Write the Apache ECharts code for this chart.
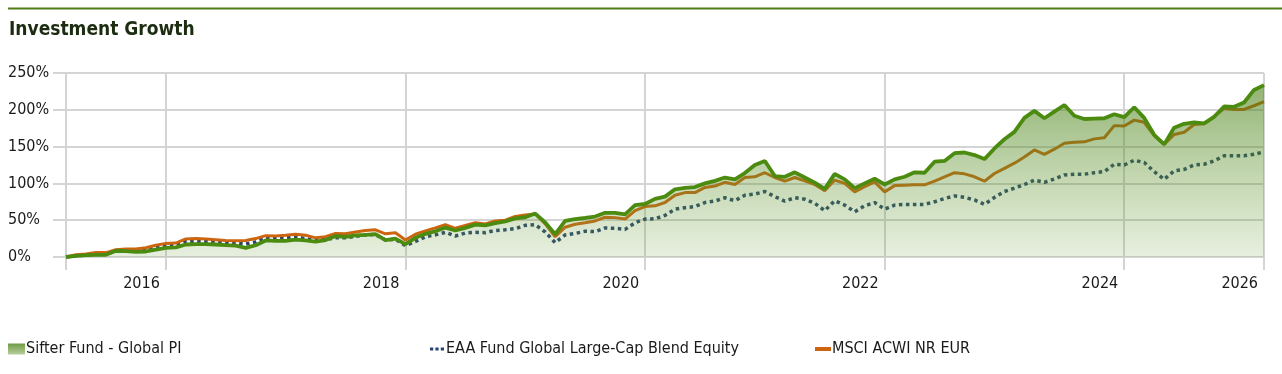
<!DOCTYPE html>
<html>
<head>
<meta charset="utf-8">
<script src="https://cdn.jsdelivr.net/npm/echarts@6/dist/echarts.min.js"></script>
<style>
html,body{margin:0;padding:0;background:#fff;}
#c{width:1282px;height:374px;}
</style>
</head>
<body>
<div id="c"></div>
<script>
// Monthly points, Feb 2016 .. Feb 2026 (cumulative growth, %)
const startYear = 2016, startMonth = 2, monthCount = 121;
const tickMonths = ['2016-12', '2018-12', '2020-12', '2022-12', '2024-12', '2026-02'];
const tickLabels = ['2016', '2018', '2020', '2022', '2024', '2026'];
const yTicks = [0, 50, 100, 150, 200, 250];

const seriesNames = ['Sifter Fund - Global PI', 'EAA Fund Global Large-Cap Blend Equity', 'MSCI ACWI NR EUR'];

const fundValues = [
  0, 1.5, 2.5, 3, 3, 8.5, 8, 7, 7.5, 10,
  12.5, 13, 17, 17.5, 17.5, 17, 16, 15.5, 12.5, 16,
  22.5, 22, 22, 23.5, 22.5, 21, 23, 28.5, 27.5, 29.5,
  30, 31, 23, 25, 17.5, 26, 31.5, 35, 40, 36,
  39.5, 44, 43, 46, 48.5, 52.5, 54, 59, 47, 31,
  49, 51.5, 53, 55, 60, 60, 58, 70.5, 72, 79,
  82, 92, 94, 95, 100, 103.5, 108, 105.5, 114, 125,
  130.5, 110, 109, 115, 108, 101, 92.5, 113, 105.5, 93.5,
  100, 106.5, 98.5, 105.5, 109, 115, 114.5, 129.5, 130.5, 141,
  142, 138.5, 133, 147.5, 160, 170, 189, 198.5, 188.5, 197.5,
  206.5, 192, 187.5, 188, 188.5, 194, 190, 203.5, 189, 166,
  153, 175.5, 181, 183, 181.5, 190.5, 204.5, 204, 210, 227,
  233.5
];

const categoryValues = [
  0, 1.5, 2.5, 4, 4, 8.5, 9, 9, 10, 13,
  15.5, 16, 21, 21.5, 21, 20.5, 19.5, 19, 17.5, 20.5,
  26, 25.5, 26, 27.5, 25, 22, 24, 26, 26, 28,
  30, 30.5, 23, 24, 15.5, 21, 27.5, 30, 33.5, 28.5,
  32.5, 33.5, 33, 36, 37, 38.5, 43, 44, 34, 19.5,
  30, 32, 35, 34.5, 39.5, 39, 37.5, 46.5, 51.5, 52,
  56.5, 65, 67, 68.5, 74, 76, 80.5, 76.5, 84, 85.5,
  89, 82, 76, 80.5, 78.5, 73, 63, 76.5, 70.5, 61.5,
  69.5, 74, 65, 70.5, 71.5, 71.5, 71.5, 75, 79.5, 83,
  81, 77.5, 71.5, 81, 89, 93.5, 98.5, 104.5, 101.5, 106,
  111.5, 112.5, 112.5, 114.5, 116, 126, 125, 131.5, 128.5, 116,
  105.5, 117, 119, 125, 126, 130.5, 137.5, 137.5, 137.5, 139.5,
  143
];

const indexValues = [
  0, 3, 4, 6, 6, 10, 11, 11, 12.5, 16,
  18.5, 19, 24.5, 25, 24.5, 23.5, 22.5, 22, 22.5, 25,
  29, 28.5, 29.5, 31, 29.5, 26, 27.5, 32, 31.5, 34,
  36, 37, 31.5, 33, 23, 31, 35.5, 39.5, 44, 39,
  43, 46.5, 45, 49, 50, 55, 57, 58.5, 45, 27.5,
  40.5, 44.5, 46.5, 49, 54, 53.5, 51.5, 63, 68.5, 69.5,
  74, 84, 87.5, 87.5, 94.5, 96.5, 101.5, 98.5, 108, 109,
  114.5, 108, 103, 108, 103.5, 98.5, 90, 104.5, 100, 88.5,
  95.5, 102, 88.5, 97, 97.5, 98, 98, 103, 109, 114.5,
  113, 109, 103, 113.5, 120.5, 127.5, 136, 145.5, 139.5, 146.5,
  154.5, 156, 156.5, 160.5, 162, 178.5, 178, 186, 183, 165,
  153, 166.5, 169.5, 180, 181, 190.5, 202, 200.5, 200.5, 205.5,
  211
];

// month category labels
const months = [];
for (let k = 0; k < monthCount; k++) {
  const m = startMonth - 1 + k;
  const y = startYear + Math.floor(m / 12);
  const mm = (m % 12) + 1;
  months.push(y + '-' + (mm < 10 ? '0' + mm : mm));
}

const FONT = '"DejaVu Sans Condensed", "Liberation Sans Narrow", Arial, sans-serif';
const GRID = '#d4d4d4';
const GREEN = '#4b8c10';
const ORANGE = '#cc6410';
const NAVY = '#27456e';
const TXT = '#1a1a1a';

const isGridMonth = (idx, val) => idx === 0 || tickMonths.indexOf(val) >= 0;

const areaGrad = new echarts.graphic.LinearGradient(0, 0, 0, 1, [
  { offset: 0, color: 'rgba(68,126,16,0.84)' },
  { offset: 1, color: 'rgba(110,160,60,0.24)' }
]);
const legendGrad = new echarts.graphic.LinearGradient(0, 0, 0, 1, [
  { offset: 0, color: '#6f9a45' },
  { offset: 1, color: '#b7cf9c' }
]);

const chart = echarts.init(document.getElementById('c'), null, { renderer: 'canvas' });
chart.setOption({
  animation: false,
  backgroundColor: '#fff',
  textStyle: { fontFamily: FONT },
  title: {
    text: 'Investment Growth',
    left: 4, top: 16,
    textStyle: { fontFamily: FONT, fontWeight: 'bold', fontSize: 19, color: '#1c2c10' }
  },
  graphic: [{
    type: 'line', silent: true,
    shape: { x1: 8, y1: 8.5, x2: 1282, y2: 8.5 },
    style: { stroke: '#4e7d14', lineWidth: 2 }
  }],
  grid: { left: 66, right: 18, top: 73, bottom: 117, containLabel: false },
  legend: [
    {
      left: 3, top: 336, itemWidth: 17, itemHeight: 11,
      data: [{ name: seriesNames[0], icon: 'rect', itemStyle: { color: legendGrad, borderWidth: 0 } }],
      textStyle: { fontFamily: FONT, fontSize: 16, color: TXT, padding: [0, 0, 0, -4] }
    },
    {
      left: 425, top: 336, itemWidth: 14, itemHeight: 4,
      data: [{ name: seriesNames[1], icon: 'path://M0,0h3v3h-3z M5,0h3v3h-3z M10,0h3v3h-3z', itemStyle: { color: NAVY, borderWidth: 0 } }],
      textStyle: { fontFamily: FONT, fontSize: 16, color: TXT, padding: [0, 0, 0, -3] }
    },
    {
      left: 810, top: 336, itemWidth: 16, itemHeight: 4,
      data: [{ name: seriesNames[2], icon: 'rect', itemStyle: { color: ORANGE, borderWidth: 0 } }],
      textStyle: { fontFamily: FONT, fontSize: 16, color: TXT, padding: [0, 0, 0, -4] }
    }
  ],
  xAxis: {
    type: 'category',
    data: months,
    boundaryGap: false,
    axisLine: { show: false },
    axisTick: { show: true, length: 13, interval: isGridMonth, lineStyle: { color: GRID, width: 2 } },
    splitLine: { show: true, interval: isGridMonth, lineStyle: { color: GRID, width: 2 } },
    axisLabel: {
      interval: (idx, val) => tickMonths.indexOf(val) >= 0,
      formatter: (val) => { const p = tickMonths.indexOf(val); return p >= 0 ? tickLabels[p] : ''; },
      align: 'right', margin: 19, padding: [0, 6, 0, 0],
      fontFamily: FONT, fontSize: 16, color: TXT
    }
  },
  yAxis: {
    type: 'value',
    min: yTicks[0], max: yTicks[yTicks.length - 1], interval: 50,
    axisLine: { show: false },
    axisTick: { show: true, length: 13, lineStyle: { color: GRID, width: 2 } },
    splitLine: { show: true, lineStyle: { color: GRID, width: 2 } },
    axisLabel: {
      formatter: '{value}%', align: 'left', margin: 58,
      fontFamily: FONT, fontSize: 16, color: TXT
    }
  },
  series: [
    {
      name: seriesNames[1], type: 'line', data: categoryValues,
      showSymbol: false, symbol: 'none',
      itemStyle: { color: NAVY },
      lineStyle: { color: NAVY, width: 3.5, type: [3.5, 3.5], cap: 'butt' },
      z: 2
    },
    {
      name: seriesNames[2], type: 'line', data: indexValues,
      showSymbol: false, symbol: 'none',
      itemStyle: { color: ORANGE },
      lineStyle: { color: ORANGE, width: 3 },
      z: 2
    },
    {
      name: seriesNames[0], type: 'line', data: fundValues,
      showSymbol: false, symbol: 'none',
      itemStyle: { color: GREEN },
      lineStyle: { color: GREEN, width: 3.8 },
      areaStyle: { color: areaGrad, origin: 'start' },
      z: 3
    }
  ]
});
</script>
</body>
</html>
